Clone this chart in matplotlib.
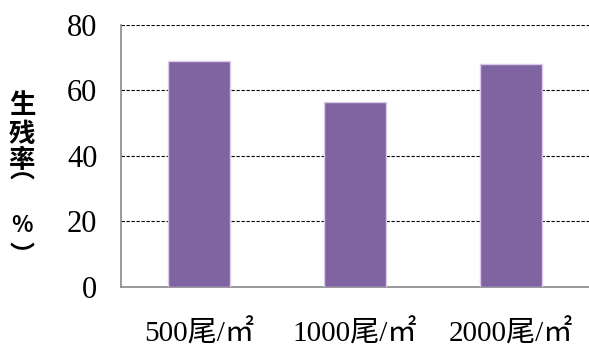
import matplotlib
matplotlib.use("Agg")
import matplotlib.pyplot as plt

categories = ["500尾/㎡", "1000尾/㎡", "2000尾/㎡"]
survival = [69.0, 56.5, 68.1]
yticks = [0, 20, 40, 60, 80]
ylabel_chars = ["生", "残", "率", "︵", "%", "︶"]

fig = plt.figure(figsize=(5.89, 3.49), dpi=100)
ax = fig.add_axes([0.2054, 0.1777, 0.7946, 0.7507])

x = range(len(categories))
ax.bar(x, survival, width=0.4, color="#8064A2", edgecolor="#d9cce8", linewidth=1.0, zorder=3)

ax.set_xlim(-0.5, len(categories) - 0.5)
ax.set_ylim(0, 80)
ax.set_yticks(yticks)
ax.set_xticks(list(x))
ax.set_xticklabels(categories, family=["Liberation Serif", "Noto Sans CJK SC"], fontsize=21)
ax.set_yticklabels([str(v) for v in yticks], family="Liberation Serif", fontsize=22)
ax.tick_params(axis="y", length=0, pad=17)
ax.tick_params(axis="x", length=0, pad=23)

for v in yticks[1:]:
    ax.axhline(v, color="black", linestyle=(0, (3, 1.5)), linewidth=0.8, zorder=1)

for s in ["top", "right"]:
    ax.spines[s].set_visible(False)
for s in ["left", "bottom"]:
    ax.spines[s].set_color("#888888")
    ax.spines[s].set_linewidth(1.2)

# vertical axis title, one character per line (vertical-form brackets)
ys = [105, 134, 161, 172, 226, 256]
sizes = [19, 19, 19, 18, 16, 18]
for ch, yp, fs in zip(ylabel_chars, ys, sizes):
    fig.text(22 / 589, 1 - yp / 349, ch, ha="center", va="center",
             family=["Noto Sans CJK SC", "DejaVu Sans"], fontweight="bold", fontsize=fs)

fig.savefig("out.png", dpi=100)
